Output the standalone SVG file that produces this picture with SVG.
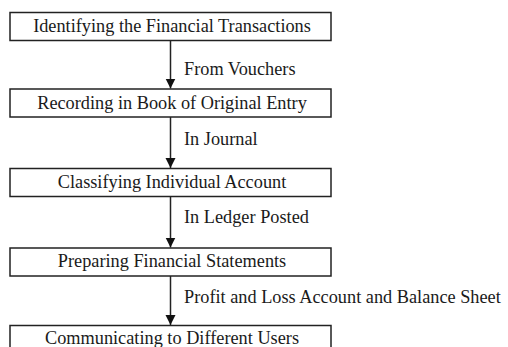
<svg xmlns="http://www.w3.org/2000/svg" width="508" height="347" viewBox="0 0 508 347">
<defs>
<style>
.box{fill:#fff;stroke:#222;stroke-width:1.5}
.t{font-family:"Liberation Serif","Times New Roman",serif;font-size:18.3px;fill:#1a1a1a}
.c{text-anchor:middle}
.e{stroke:#222;stroke-width:1.5;fill:none}
</style>
<marker id="ah" viewBox="0 0 10 11" refX="10" refY="5" markerWidth="10" markerHeight="11" markerUnits="userSpaceOnUse" orient="auto">
<path d="M0,0 L10,5 L0,10 z" fill="#111"/>
</marker>
</defs>
<rect width="508" height="347" fill="#fff"/>
<g id="connectors">
<line class="e" x1="170.5" y1="41" x2="170.5" y2="88.5" marker-end="url(#ah)"/>
<line class="e" x1="170.5" y1="117" x2="170.5" y2="168" marker-end="url(#ah)"/>
<line class="e" x1="170.5" y1="196" x2="170.5" y2="247.5" marker-end="url(#ah)"/>
<line class="e" x1="170.5" y1="276" x2="170.5" y2="325" marker-end="url(#ah)"/>
<text class="t" x="184" y="75">From Vouchers</text>
<text class="t" x="184" y="145">In Journal</text>
<text class="t" x="184" y="223">In Ledger Posted</text>
<text class="t" x="184" y="303">Profit and Loss Account and Balance Sheet</text>
</g>
<g id="n1"><rect class="box" x="10" y="12.5" width="321" height="28"/><text class="t c" x="172" y="32">Identifying the Financial Transactions</text></g>
<g id="n2"><rect class="box" x="10" y="89" width="321" height="28"/><text class="t c" x="172" y="108.5">Recording in Book of Original Entry</text></g>
<g id="n3"><rect class="box" x="10" y="168.5" width="321" height="28"/><text class="t c" x="172" y="187.5">Classifying Individual Account</text></g>
<g id="n4"><rect class="box" x="10" y="248" width="321" height="28"/><text class="t c" x="172" y="267">Preparing Financial Statements</text></g>
<g id="n5"><rect class="box" x="10" y="325.5" width="321" height="28"/><text class="t c" x="172" y="344">Communicating to Different Users</text></g>
</svg>
